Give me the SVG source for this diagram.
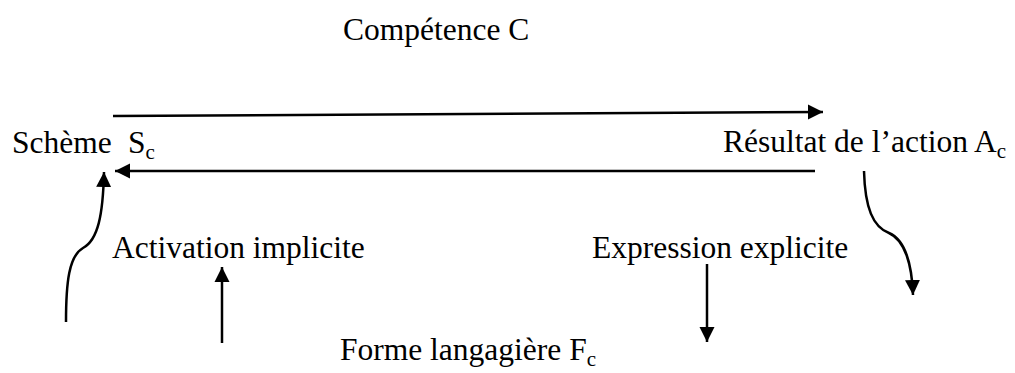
<svg xmlns="http://www.w3.org/2000/svg" width="1015" height="373" viewBox="0 0 1015 373">
  <style>
    .lbl { font-family: "Liberation Serif", "Times New Roman", serif; font-size: 31.5px; fill: #000; }
    .sub { font-size: 21px; }
    .edge { fill: none; stroke: #000; stroke-width: 2.5; }
  </style>
  <defs>
    <marker id="head" markerUnits="userSpaceOnUse" markerWidth="16" markerHeight="16" viewBox="0 0 16 16" refX="15" refY="8" orient="auto">
      <path d="M0,0.5 L15,8 L0,15.5 Z" fill="#000"/>
    </marker>
  </defs>

  <rect width="1015" height="373" fill="#fff"/>

  <g id="competence">
    <text class="lbl" x="343" y="40">Compétence C</text>
  </g>
  <g id="scheme">
    <text class="lbl" x="12" y="153">Schème</text>
    <text class="lbl" x="128" y="153">S<tspan class="sub" dy="6">c</tspan></text>
  </g>
  <g id="resultat">
    <text class="lbl" x="723" y="152">Résultat de l’action A<tspan class="sub" dy="6">c</tspan></text>
  </g>
  <g id="activation">
    <text class="lbl" x="112" y="258">Activation implicite</text>
  </g>
  <g id="expression">
    <text class="lbl" x="592" y="258">Expression explicite</text>
  </g>
  <g id="forme">
    <text class="lbl" x="340" y="360">Forme langagière F<tspan class="sub" dy="6">c</tspan></text>
  </g>

  <g id="connectors">
    <!-- scheme to result -->
    <path class="edge" d="M113,116 L823,112" marker-end="url(#head)"/>
    <!-- result back to scheme -->
    <path class="edge" d="M815,171 L115,171" marker-end="url(#head)"/>
    <!-- curved return into the scheme -->
    <path class="edge" d="M66,322 C66,282 69,256 83,248 C98,240 103,215 104,172" marker-end="url(#head)"/>
    <!-- curved exit from the result -->
    <path class="edge" d="M864,171 C865,208 873,227 889,233 C905,240 912,265 913,295" marker-end="url(#head)"/>
    <!-- language form up to implicit activation -->
    <path class="edge" d="M222,343 L222,267" marker-end="url(#head)"/>
    <!-- explicit expression down to language form -->
    <path class="edge" d="M707,264 L707,342" marker-end="url(#head)"/>
  </g>
</svg>
